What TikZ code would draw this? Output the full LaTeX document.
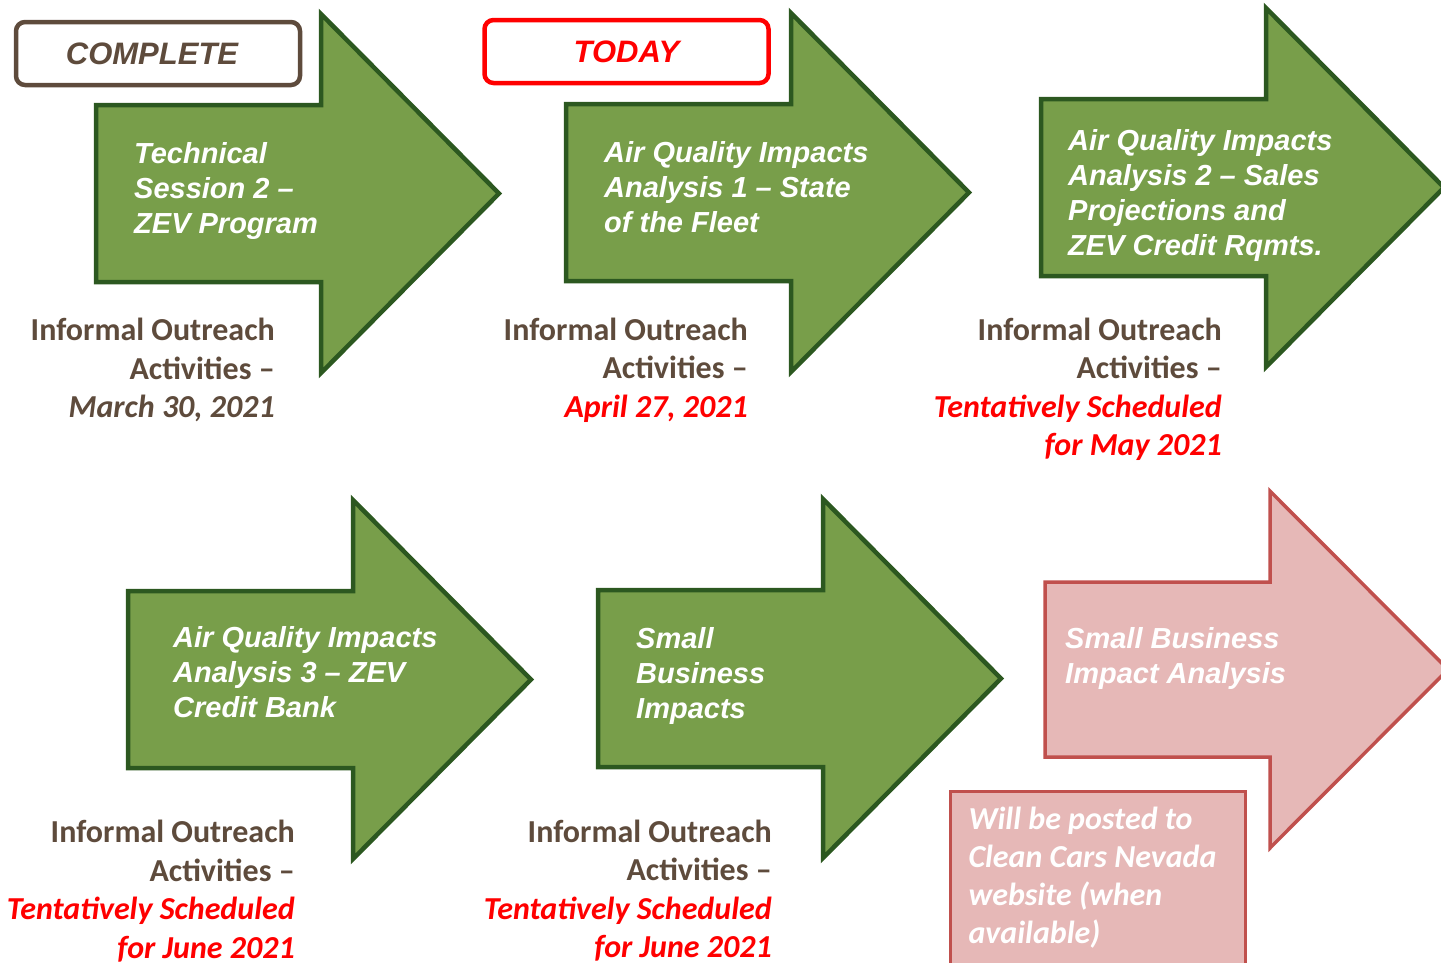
\documentclass[tikz,border=0pt]{standalone}
\usepackage{fontspec}
\setmainfont{Carlito}
\newfontfamily\arialfont[Ligatures=TeX]{Liberation Sans}
\definecolor{stagegreen}{HTML}{789E4A}
\definecolor{stageedge}{HTML}{2C5820}
\definecolor{notebrown}{HTML}{5E4B3C}
\definecolor{laterpink}{HTML}{E6B8B7}
\definecolor{lateredge}{HTML}{C0504D}

\begin{document}
\begin{tikzpicture}[x=1pt,y=-1pt]
  \tikzset{stagearrow/.style={draw=stageedge, fill=stagegreen, line width=4.5pt, line join=miter, miter limit=10},
    laterarrow/.style={stagearrow, draw=lateredge, fill=laterpink, line width=3.5pt},
    stagetext/.style={font=\arialfont\fontsize{29}{35}\selectfont\bfseries\itshape, text=white, align=left, anchor=west, inner sep=0pt},
    outreach/.style={font=\fontsize{32}{38.5}\selectfont\bfseries, text=notebrown, align=right, anchor=east, inner sep=0pt},
    tag/.style={draw, fill=white, rounded corners=9pt, line width=4.5pt, minimum width=284pt, minimum height=63pt,
      font=\arialfont\fontsize{31}{36}\selectfont\bfseries\itshape}}
  \useasboundingbox (0,0) rectangle (1441,962);

  % arrows: left and top of the body
  \foreach \l/\t in {96/105, 566/104, 1041/99, 128/591, 598/590}
    \draw[stagearrow] (\l,\t) -- ++(225,0) -- ++(0,-91) -- ++(178,179.5) -- ++(-178,179.5) -- ++(0,-91) -- ++(-225,0) -- cycle;
  \draw[laterarrow] (1045,582) -- ++(225,0) -- ++(0,-91) -- ++(178,178.5) -- ++(-178,178.5) -- ++(0,-91) -- ++(-225,0) -- cycle;

  \node[tag, draw=notebrown, text=notebrown, text width=270pt, align=center] (complete) at (158,53.5) {COMPLETE\hspace*{12pt}};
  \node[tag, draw=red, text=red] (today) at (626.5,51.5) {TODAY};

  \node[stagetext] (session) at (134,191) {Technical\\Session 2 --\\ZEV Program};
  \node[stagetext] (aq1) at (604,187) {Air Quality Impacts\\Analysis 1 -- State\\of the Fleet};
  \node[stagetext] (aq2) at (1068,195.5) {Air Quality Impacts\\Analysis 2 -- Sales\\Projections and\\ZEV Credit Rqmts.};
  \node[stagetext] (aq3) at (173,672) {Air Quality Impacts\\Analysis 3 -- ZEV\\Credit Bank};
  \node[stagetext] (small) at (636,676) {Small\\Business\\Impacts};
  \node[stagetext] (sbia) at (1065,658) {Small Business\\Impact Analysis};

  \node[outreach] (out1) at (275,370) {Informal Outreach\\Activities --\\\textit{March 30, 2021}};
  \node[outreach] (out2) at (748,370) {Informal Outreach\\Activities --\\\textcolor{red}{\textit{April 27, 2021}}};
  \node[outreach] (out3) at (1222,389.5) {Informal Outreach\\Activities --\\\textcolor{red}{\textit{Tentatively Scheduled}}\\\textcolor{red}{\textit{for May 2021}}};
  \node[outreach] (out4) at (295,891) {Informal Outreach\\Activities --\\\textcolor{red}{\textit{Tentatively Scheduled}}\\\textcolor{red}{\textit{for June 2021}}};
  \node[outreach] (out5) at (772,890.5) {Informal Outreach\\Activities --\\\textcolor{red}{\textit{Tentatively Scheduled}}\\\textcolor{red}{\textit{for June 2021}}};

  \node[draw=lateredge, fill=laterpink, line width=3pt, anchor=north west, text width=259pt, inner xsep=18pt, inner ysep=15.5pt,
    text depth=150pt, align=flush left, text=white, font=\fontsize{32}{38}\selectfont\bfseries\itshape] (website) at (949,790)
    {Will be posted to\\Clean Cars Nevada\\website (when\\available)};
\end{tikzpicture}
\end{document}
